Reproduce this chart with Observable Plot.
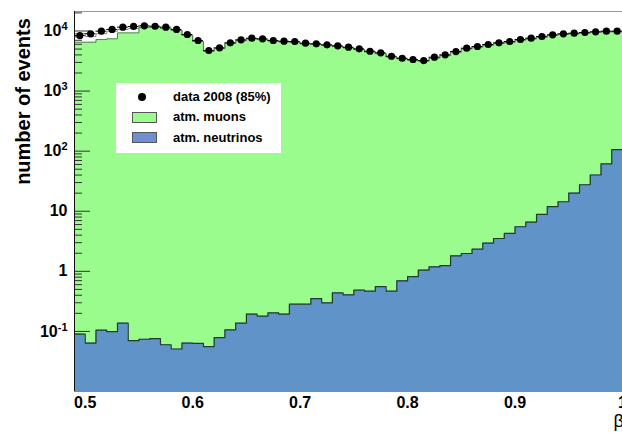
<!DOCTYPE html>
<html><head><meta charset="utf-8">
<script src="https://cdn.jsdelivr.net/npm/d3@7"></script>
<script src="https://cdn.jsdelivr.net/npm/@observablehq/plot@0.6"></script>
<style>
html,body{margin:0;padding:0;overflow:hidden;background:#fff;}
#wrap{position:relative;width:622px;height:436px;overflow:hidden;}
.legend{position:absolute;left:116px;top:83px;width:165px;height:70px;background:#fff;font-family:"Liberation Sans",Arial,sans-serif;font-weight:bold;font-size:13px;color:#000;}
.legend .lab{position:absolute;left:57px;line-height:14px;white-space:nowrap;}
.legend .sw{position:absolute;left:16px;width:23px;height:9px;border:1px solid #555;}
.legend .dot{position:absolute;left:22px;width:8px;height:8px;border-radius:50%;background:#000;}
</style></head><body><div id="wrap"></div>
<script>
// bin centres (bin width 0.01)
const binCenters = [0.495,0.505,0.515,0.525,0.535,0.545,0.555,0.565,0.575,0.585,
  0.595,0.605,0.615,0.625,0.635,0.645,0.655,0.665,0.675,0.685,
  0.695,0.705,0.715,0.725,0.735,0.745,0.755,0.765,0.775,0.785,
  0.795,0.805,0.815,0.825,0.835,0.845,0.855,0.865,0.875,0.885,
  0.895,0.905,0.915,0.925,0.935,0.945,0.955,0.965,0.975,0.985,0.995];
// data 2008 (85%)
const dataCounts = [8400,8980,9930,10600,11570,11900,12200,12000,11570,10600,
  8740,6950,4730,5250,6360,7130,7590,7410,6950,6760,
  6680,6260,6120,5890,5670,5370,5050,4600,4330,3800,
  3520,3350,3220,3660,4010,4550,5170,5520,5960,6360,
  6680,7220,7590,8090,8640,8980,9190,9440,9700,9930,9930];
// atm. muons (stacked top of the green histogram)
const muonTop = [6500,6500,7200,7400,9300,9300,11500,11500,11000,10200,
  8500,6700,4600,5100,6200,6900,7400,7200,6800,6600,
  6500,6100,5950,5750,5500,5250,4900,4500,4200,3700,
  3450,3250,3150,3550,3900,4450,5050,5400,5800,6200,
  6500,7050,7400,7900,8450,8800,9000,9250,9500,9700,9750];
// outline histogram (grey line)
const mcOutline = [9100,8100,9000,9900,10600,11100,11500,11500,11000,10200,
  8500,6700,4600,5100,6200,6900,7400,7200,6800,6600,
  6500,6100,5950,5750,5500,5250,4900,4500,4200,3700,
  3450,3250,3150,3550,3900,4450,5050,5400,5800,6200,
  6500,7050,7400,7900,8450,8800,9000,9250,9500,9700,9750];
// atm. neutrinos
const neutrinos = [0.090,0.064,0.105,0.099,0.137,0.070,0.074,0.076,0.060,0.051,
  0.064,0.063,0.056,0.079,0.106,0.137,0.194,0.179,0.203,0.194,
  0.284,0.284,0.352,0.299,0.437,0.406,0.486,0.468,0.558,0.468,
  0.695,0.819,1.05,1.19,1.24,1.81,1.98,2.34,2.95,3.52,
  4.27,5.52,6.61,8.85,11.9,14.4,20.1,27.6,40.1,61.2,106];

const yTickValues = [0.1,1,10,100,1000,10000];
const yTickLabels = ["10^-1","1","10","10^2","10^3","10^4"];
const xTickValues = [0.5,0.6,0.7,0.8,0.9,1.0];
const xTickLabels = ["0.5","0.6","0.7","0.8","0.9","1"];
const minorMultiples = [2,3,4,5,6,7,8,9];
const decades = [0.01,0.1,1,10,100,1000,10000];

const xDomain = [0.49, 1.0];
const yDomain = [0.01, 21100];
const binHalf = 0.005;

const W = 622, H = 436, mL = 74, mR = 0, mT = 11, mB = 45;
const frameW = W - mL - mR;

const green = "#99fc8d";
const blue = "#6094c8";

const minorTicks = decades.flatMap(d => minorMultiples.map(m => d*m)).filter(v => v < yDomain[1]);

function stepRows(vals){
  const rows = binCenters.map((c,i) => ({x: c - binHalf, y: vals[i]}));
  rows.push({x: binCenters[binCenters.length-1] + binHalf, y: vals[vals.length-1]});
  return rows;
}
const dataRows = binCenters.map((c,i) => ({c, v: dataCounts[i]}));

const chart = Plot.plot({
  width: W, height: H,
  marginLeft: mL, marginRight: mR, marginTop: mT, marginBottom: mB,
  x: {domain: xDomain, label: null},
  y: {type: "log", domain: yDomain, label: null},
  style: {fontFamily: "Liberation Sans, Arial, sans-serif", color: "#000", background: "#fff"},
  marks: [
    Plot.areaY(stepRows(muonTop), {x: "x", y1: yDomain[0], y2: "y", curve: "step-after", fill: green}),
    // inward y-axis ticks (ROOT style)
    Plot.tickY(minorTicks, {y: d => d, insetRight: frameW - 8, stroke: "#333", strokeWidth: 1}),
    Plot.tickY(yTickValues, {y: d => d, insetRight: frameW - 16, stroke: "#333", strokeWidth: 1}),
    Plot.lineY(stepRows(mcOutline), {x: "x", y: "y", curve: "step-after", stroke: "#8a8a8a", strokeWidth: 1}),
    Plot.lineY(stepRows(muonTop), {x: "x", y: "y", curve: "step-after", stroke: "#5d7a5d", strokeWidth: 1}),
    Plot.areaY(stepRows(neutrinos), {x: "x", y1: yDomain[0], y2: "y", curve: "step-after", fill: blue}),
    Plot.lineY(stepRows(neutrinos), {x: "x", y: "y", curve: "step-after", stroke: "#243a2c", strokeWidth: 1.2}),
    Plot.ruleY(dataRows, {y: "v", x1: d => d.c - binHalf, x2: d => d.c + binHalf, stroke: "#000", strokeWidth: 1}),
    Plot.dot(dataRows, {x: "c", y: "v", r: 3.6, fill: "#000"}),
    Plot.ruleY([yDomain[1]], {stroke: "#999", strokeWidth: 1.2}),
    Plot.ruleY([yDomain[0]], {stroke: "#888", strokeWidth: 1}),
    Plot.ruleX([xDomain[0]], {stroke: "#111", strokeWidth: 1}),
    Plot.axisY(yTickValues, {anchor: "left", tickSize: 0, tickPadding: 7, label: null,
      tickFormat: d => yTickLabels[yTickValues.indexOf(d)], fontSize: 16, fontWeight: "bold"}),
    Plot.axisX(xTickValues, {anchor: "bottom", tickSize: 0, tickPadding: 5, label: null,
      tickFormat: d => xTickLabels[xTickValues.indexOf(d)], fontSize: 16, fontWeight: "bold"}),
    Plot.text(["number of events"], {frameAnchor: "top-left", text: d => d, rotate: -90, dx: -59, dy: 90,
      fontSize: 20, fontWeight: "bold", textAnchor: "middle"}),
    Plot.text(["\u03B2"], {frameAnchor: "bottom-right", text: d => d, dx: -9, dy: 35, textAnchor: "start", fontSize: 18})
  ]
});

// render exponents of the y tick labels as superscripts
chart.querySelectorAll('g[aria-label="y-axis tick label"] text').forEach(t => {
  const s = t.textContent;
  const i = s.indexOf("^");
  if (i < 0) return;
  t.textContent = "";
  const ns = "http://www.w3.org/2000/svg";
  const base = document.createElementNS(ns, "tspan");
  base.textContent = s.slice(0, i);
  const exp = document.createElementNS(ns, "tspan");
  exp.textContent = s.slice(i + 1);
  exp.setAttribute("dy", "-6");
  exp.setAttribute("font-size", "11");
  t.appendChild(base);
  t.appendChild(exp);
});

const wrap = document.getElementById("wrap");
wrap.appendChild(chart);

const legend = document.createElement("div");
legend.className = "legend";
legend.innerHTML = `
  <div class="dot" style="top:10px"></div><div class="lab" style="top:7px">data 2008 (85%)</div>
  <div class="sw" style="top:29px;background:${green}"></div><div class="lab" style="top:27px">atm. muons</div>
  <div class="sw" style="top:49px;background:#6f8fd2"></div><div class="lab" style="top:48px">atm. neutrinos</div>`;
wrap.appendChild(legend);
</script>
</body></html>
